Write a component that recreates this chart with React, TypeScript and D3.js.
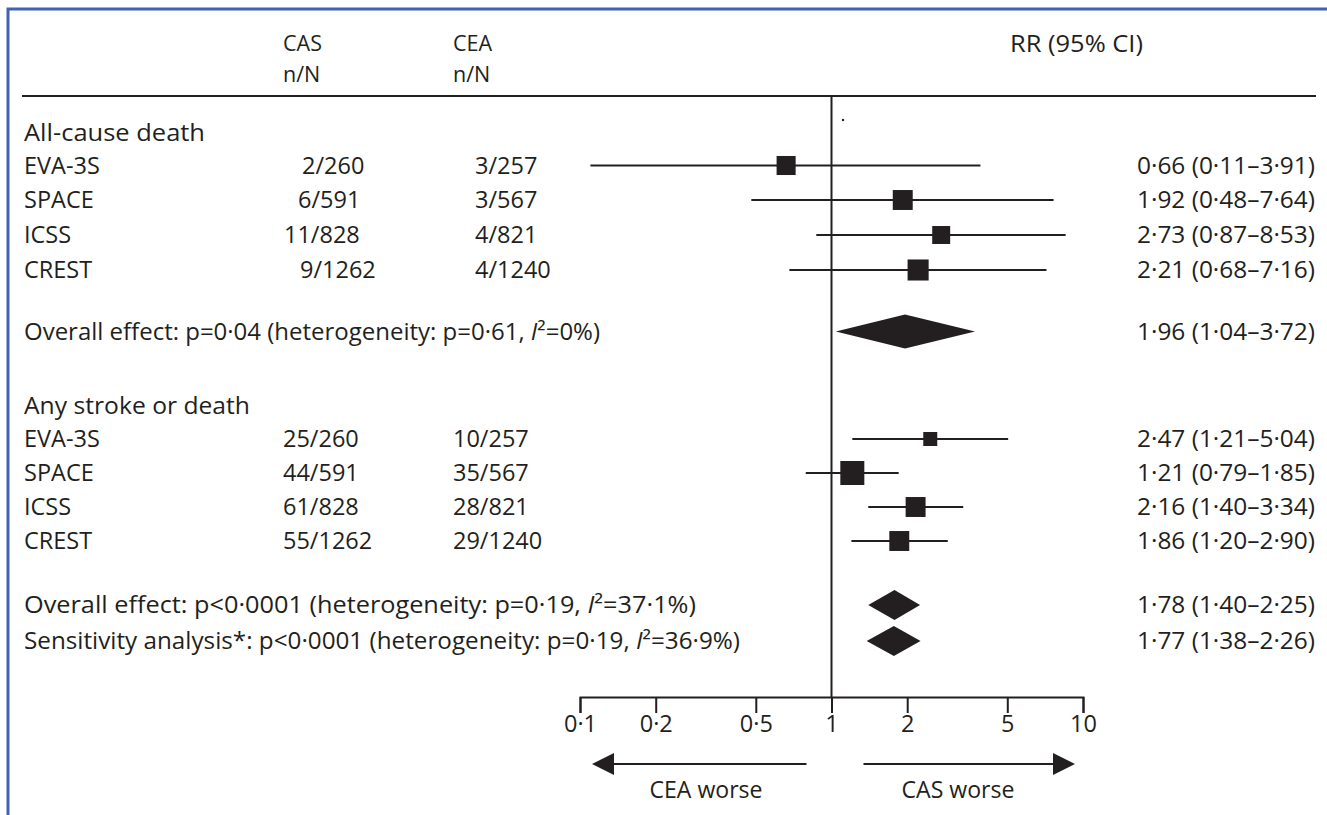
import React, { useEffect, useRef } from "react";
import * as d3 from "d3";

// ---------- data ----------
const studies = ["EVA-3S", "SPACE", "ICSS", "CREST"];

const deathCAS = ["2/260", "6/591", "11/828", "9/1262"];
const deathCEA = ["3/257", "3/567", "4/821", "4/1240"];
const deathRR = [0.66, 1.92, 2.73, 2.21];
const deathLo = [0.11, 0.48, 0.87, 0.68];
const deathHi = [3.91, 7.64, 8.53, 7.16];
const deathWeight = [63, 69, 56, 77];

const strokeCAS = ["25/260", "44/591", "61/828", "55/1262"];
const strokeCEA = ["10/257", "35/567", "28/821", "29/1240"];
const strokeRR = [2.47, 1.21, 2.16, 1.86];
const strokeLo = [1.21, 0.79, 1.4, 1.2];
const strokeHi = [5.04, 1.85, 3.34, 2.9];
const strokeWeight = [34, 100, 69, 69];

const overallPre = [
  "Overall effect: p=0·04 (heterogeneity: p=0·61, ",
  "Overall effect: p<0·0001 (heterogeneity: p=0·19, ",
  "Sensitivity analysis*: p<0·0001 (heterogeneity: p=0·19, ",
];
const overallI2 = ["0%", "37·1%", "36·9%"];
const overallRR = [1.96, 1.78, 1.77];
const overallLo = [1.04, 1.4, 1.38];
const overallHi = [3.72, 2.25, 2.26];

const tickValues = [0.1, 0.2, 0.5, 1, 2, 5, 10];

// ---------- layout ----------
const W = 1327;
const H = 815;
const INK = "#231f20";
const FONT = "'Open Sans', Lato, sans-serif";
const FS = 23.5;
const HFS = 21.5;
const deathY = [165.5, 200, 235, 270];
const strokeY = [439, 473, 507, 541];
const overallY = [331.5, 605, 641];
const diamondH = [34, 30, 30];
const deathCASx = [302, 298, 284, 300];
const strokeCASx = [283, 283, 283, 283];
const deathCEAx = 475;
const strokeCEAx = 453;
const leftX = 24;
const rightX = 1137;
const rightW = 178;
const overallW = [576, 672, 716];
const axisY = 697;

const dot = (v: number) => d3.format(".2f")(v).replace(".", "·");
const rrText = (r: number, l: number, h: number) => `${dot(r)} (${dot(l)}–${dot(h)})`;

export default function App() {
  const axisRef = useRef<SVGGElement>(null);
  const x = d3.scaleLog().domain([0.1, 10]).range([580, 1083]);
  const box = d3.scaleSqrt().domain([0, 100]).range([0, 24]);

  useEffect(() => {
    if (!axisRef.current) return;
    const g = d3.select(axisRef.current);
    g.selectAll("*").remove();
    g.call(
      d3
        .axisBottom(x)
        .tickValues(tickValues)
        .tickFormat((d: any) => String(d).replace(".", "·"))
        .tickSize(16)
        .tickSizeOuter(16)
        .tickPadding(2)
    );
    g.select(".domain").attr("stroke", INK).attr("stroke-width", 2);
    g.selectAll(".tick line").attr("stroke", INK).attr("stroke-width", 2);
    g.selectAll(".tick text")
      .attr("fill", INK)
      .attr("font-family", FONT)
      .attr("font-size", FS);
  }, []);

  const txt = (s: string, xx: number, yy: number, extra: any = {}) => (
    <text x={xx} y={yy} dy="0.35em" fontFamily={FONT} fontSize={FS} fill={INK} {...extra}>
      {s}
    </text>
  );
  const fit = (w: number) => ({ textLength: w, lengthAdjust: "spacingAndGlyphs" });

  const studyRows = (
    ys: number[],
    cas: string[],
    casX: number[],
    cea: string[],
    ceaX: number,
    rr: number[],
    lo: number[],
    hi: number[],
    wt: number[],
    key: string
  ) =>
    studies.map((s, i) => {
      const sz = box(wt[i]);
      return (
        <g key={key + i}>
          {txt(s, leftX, ys[i])}
          {txt(cas[i], casX[i], ys[i])}
          {txt(cea[i], ceaX, ys[i])}
          <line x1={x(lo[i])} x2={x(hi[i])} y1={ys[i]} y2={ys[i]} stroke={INK} strokeWidth={2} />
          <rect x={x(rr[i]) - sz / 2} y={ys[i] - sz / 2} width={sz} height={sz} fill={INK} />
          {txt(rrText(rr[i], lo[i], hi[i]), rightX, ys[i], fit(rightW))}
        </g>
      );
    });

  const x1 = x(1);

  return (
    <svg
      width={W}
      height={H}
      style={{ position: "absolute", left: 0, top: 0, background: "#fff" }}
    >
      <rect x={0} y={0} width={W} height={H} fill="#fff" />
      {/* frame */}
      <path d={`M8,${H} V9 H${W}`} fill="none" stroke="#3f63b2" strokeWidth={3} />

      {/* header */}
      {txt("CAS", 283, 43, { fontSize: HFS })}
      {txt("n/N", 283, 74, { fontSize: HFS })}
      {txt("CEA", 453, 43, { fontSize: HFS })}
      {txt("n/N", 453, 74, { fontSize: HFS })}
      {txt("RR (95% CI)", 1010, 44, fit(133))}
      <line x1={22} x2={1316} y1={96} y2={96} stroke={INK} strokeWidth={2} />

      {/* reference line */}
      <line x1={x1} x2={x1} y1={96} y2={axisY} stroke={INK} strokeWidth={2} />
      <circle cx={843} cy={120} r={1.2} fill={INK} />

      {/* sections */}
      {txt("All-cause death", leftX, 133, fit(181))}
      {studyRows(deathY, deathCAS, deathCASx, deathCEA, deathCEAx, deathRR, deathLo, deathHi, deathWeight, "d")}
      {txt("Any stroke or death", leftX, 406, fit(226))}
      {studyRows(strokeY, strokeCAS, strokeCASx, strokeCEA, strokeCEAx, strokeRR, strokeLo, strokeHi, strokeWeight, "s")}

      {/* overall */}
      {overallRR.map((r, i) => {
        const yy = overallY[i];
        const h = diamondH[i] / 2;
        const pts = [
          [x(overallLo[i]), yy],
          [x(r), yy - h],
          [x(overallHi[i]), yy],
          [x(r), yy + h],
        ];
        return (
          <g key={"o" + i}>
            <text
              x={leftX}
              y={yy}
              dy="0.35em"
              fontFamily={FONT}
              fontSize={FS}
              fill={INK}
              textLength={overallW[i]}
              lengthAdjust="spacingAndGlyphs"
            >
              {overallPre[i]}
              <tspan fontStyle="italic">I</tspan>
              {"²=" + overallI2[i] + ")"}
            </text>
            <polygon points={pts.map((p) => p.join(",")).join(" ")} fill={INK} />
            {txt(rrText(r, overallLo[i], overallHi[i]), rightX, yy, fit(rightW))}
          </g>
        );
      })}

      {/* axis */}
      <g ref={axisRef} transform={`translate(0,${axisY})`} />

      {/* arrows */}
      <line x1={x1 - 25} x2={x(0.1) + 30} y1={764} y2={764} stroke={INK} strokeWidth={2} />
      <polygon
        points={`${x(0.1) + 12},764 ${x(0.1) + 34},753 ${x(0.1) + 34},775`}
        fill={INK}
      />
      <line x1={x1 + 32} x2={x(10) - 26} y1={764} y2={764} stroke={INK} strokeWidth={2} />
      <polygon
        points={`${x(10) - 8},764 ${x(10) - 30},753 ${x(10) - 30},775`}
        fill={INK}
      />
      {txt("CEA worse", 706, 790, { textAnchor: "middle", ...fit(113) })}
      {txt("CAS worse", 958, 790, { textAnchor: "middle", ...fit(113) })}
    </svg>
  );
}
